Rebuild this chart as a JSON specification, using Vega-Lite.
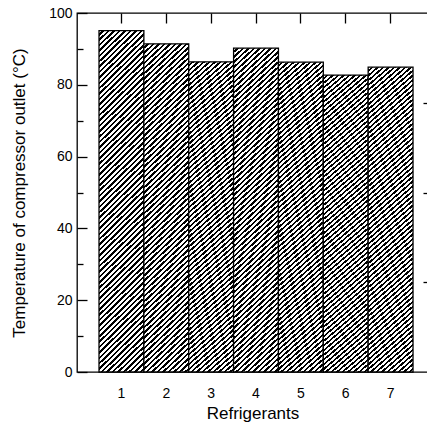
{
  "$schema": "https://vega.github.io/schema/vega-lite/v6.json",
  "autosize": "none",
  "padding": {"left": 77, "top": 13, "right": 0, "bottom": 54},
  "width": 351,
  "height": 359,
  "data": {"values": [
    {"refrigerant": "1", "temp": 95.1},
    {"refrigerant": "2", "temp": 91.4},
    {"refrigerant": "3", "temp": 86.4},
    {"refrigerant": "4", "temp": 90.2},
    {"refrigerant": "5", "temp": 86.3},
    {"refrigerant": "6", "temp": 82.7},
    {"refrigerant": "7", "temp": 84.9}
  ]},
  "layer": [
    {
      "mark": {"type": "bar", "stroke": "black", "strokeWidth": 1.3,
        "fill": {"gradient": "linear", "x1": 0, "y1": 0, "x2": 0.142, "y2": 1.11, "stops": [
{"offset":0,"color":"#fff"},{"offset":0.0075,"color":"#fff"},{"offset":0.0075,"color":"#000"},{"offset":0.014,"color":"#000"},
{"offset":0.014,"color":"#fff"},{"offset":0.0215,"color":"#fff"},{"offset":0.0215,"color":"#000"},{"offset":0.028,"color":"#000"},
{"offset":0.028,"color":"#fff"},{"offset":0.0355,"color":"#fff"},{"offset":0.0355,"color":"#000"},{"offset":0.042,"color":"#000"},
{"offset":0.042,"color":"#fff"},{"offset":0.0495,"color":"#fff"},{"offset":0.0495,"color":"#000"},{"offset":0.056,"color":"#000"},
{"offset":0.056,"color":"#fff"},{"offset":0.0635,"color":"#fff"},{"offset":0.0635,"color":"#000"},{"offset":0.070,"color":"#000"},
{"offset":0.070,"color":"#fff"},{"offset":0.0775,"color":"#fff"},{"offset":0.0775,"color":"#000"},{"offset":0.084,"color":"#000"},
{"offset":0.084,"color":"#fff"},{"offset":0.0915,"color":"#fff"},{"offset":0.0915,"color":"#000"},{"offset":0.098,"color":"#000"},
{"offset":0.098,"color":"#fff"},{"offset":0.1055,"color":"#fff"},{"offset":0.1055,"color":"#000"},{"offset":0.112,"color":"#000"},
{"offset":0.112,"color":"#fff"},{"offset":0.1195,"color":"#fff"},{"offset":0.1195,"color":"#000"},{"offset":0.126,"color":"#000"},
{"offset":0.126,"color":"#fff"},{"offset":0.1335,"color":"#fff"},{"offset":0.1335,"color":"#000"},{"offset":0.140,"color":"#000"},
{"offset":0.140,"color":"#fff"},{"offset":0.1475,"color":"#fff"},{"offset":0.1475,"color":"#000"},{"offset":0.154,"color":"#000"},
{"offset":0.154,"color":"#fff"},{"offset":0.1615,"color":"#fff"},{"offset":0.1615,"color":"#000"},{"offset":0.168,"color":"#000"},
{"offset":0.168,"color":"#fff"},{"offset":0.1755,"color":"#fff"},{"offset":0.1755,"color":"#000"},{"offset":0.182,"color":"#000"},
{"offset":0.182,"color":"#fff"},{"offset":0.1895,"color":"#fff"},{"offset":0.1895,"color":"#000"},{"offset":0.196,"color":"#000"},
{"offset":0.196,"color":"#fff"},{"offset":0.2035,"color":"#fff"},{"offset":0.2035,"color":"#000"},{"offset":0.210,"color":"#000"},
{"offset":0.210,"color":"#fff"},{"offset":0.2175,"color":"#fff"},{"offset":0.2175,"color":"#000"},{"offset":0.224,"color":"#000"},
{"offset":0.224,"color":"#fff"},{"offset":0.2315,"color":"#fff"},{"offset":0.2315,"color":"#000"},{"offset":0.238,"color":"#000"},
{"offset":0.238,"color":"#fff"},{"offset":0.2455,"color":"#fff"},{"offset":0.2455,"color":"#000"},{"offset":0.252,"color":"#000"},
{"offset":0.252,"color":"#fff"},{"offset":0.2595,"color":"#fff"},{"offset":0.2595,"color":"#000"},{"offset":0.266,"color":"#000"},
{"offset":0.266,"color":"#fff"},{"offset":0.2735,"color":"#fff"},{"offset":0.2735,"color":"#000"},{"offset":0.280,"color":"#000"},
{"offset":0.280,"color":"#fff"},{"offset":0.2875,"color":"#fff"},{"offset":0.2875,"color":"#000"},{"offset":0.294,"color":"#000"},
{"offset":0.294,"color":"#fff"},{"offset":0.3015,"color":"#fff"},{"offset":0.3015,"color":"#000"},{"offset":0.308,"color":"#000"},
{"offset":0.308,"color":"#fff"},{"offset":0.3155,"color":"#fff"},{"offset":0.3155,"color":"#000"},{"offset":0.322,"color":"#000"},
{"offset":0.322,"color":"#fff"},{"offset":0.3295,"color":"#fff"},{"offset":0.3295,"color":"#000"},{"offset":0.336,"color":"#000"},
{"offset":0.336,"color":"#fff"},{"offset":0.3435,"color":"#fff"},{"offset":0.3435,"color":"#000"},{"offset":0.350,"color":"#000"},
{"offset":0.350,"color":"#fff"},{"offset":0.3575,"color":"#fff"},{"offset":0.3575,"color":"#000"},{"offset":0.364,"color":"#000"},
{"offset":0.364,"color":"#fff"},{"offset":0.3715,"color":"#fff"},{"offset":0.3715,"color":"#000"},{"offset":0.378,"color":"#000"},
{"offset":0.378,"color":"#fff"},{"offset":0.3855,"color":"#fff"},{"offset":0.3855,"color":"#000"},{"offset":0.392,"color":"#000"},
{"offset":0.392,"color":"#fff"},{"offset":0.3995,"color":"#fff"},{"offset":0.3995,"color":"#000"},{"offset":0.406,"color":"#000"},
{"offset":0.406,"color":"#fff"},{"offset":0.4135,"color":"#fff"},{"offset":0.4135,"color":"#000"},{"offset":0.420,"color":"#000"},
{"offset":0.420,"color":"#fff"},{"offset":0.4275,"color":"#fff"},{"offset":0.4275,"color":"#000"},{"offset":0.434,"color":"#000"},
{"offset":0.434,"color":"#fff"},{"offset":0.4415,"color":"#fff"},{"offset":0.4415,"color":"#000"},{"offset":0.448,"color":"#000"},
{"offset":0.448,"color":"#fff"},{"offset":0.4555,"color":"#fff"},{"offset":0.4555,"color":"#000"},{"offset":0.462,"color":"#000"},
{"offset":0.462,"color":"#fff"},{"offset":0.4695,"color":"#fff"},{"offset":0.4695,"color":"#000"},{"offset":0.476,"color":"#000"},
{"offset":0.476,"color":"#fff"},{"offset":0.4835,"color":"#fff"},{"offset":0.4835,"color":"#000"},{"offset":0.490,"color":"#000"},
{"offset":0.490,"color":"#fff"},{"offset":0.4975,"color":"#fff"},{"offset":0.4975,"color":"#000"},{"offset":0.504,"color":"#000"},
{"offset":0.504,"color":"#fff"},{"offset":0.5115,"color":"#fff"},{"offset":0.5115,"color":"#000"},{"offset":0.518,"color":"#000"},
{"offset":0.518,"color":"#fff"},{"offset":0.5255,"color":"#fff"},{"offset":0.5255,"color":"#000"},{"offset":0.532,"color":"#000"},
{"offset":0.532,"color":"#fff"},{"offset":0.5395,"color":"#fff"},{"offset":0.5395,"color":"#000"},{"offset":0.546,"color":"#000"},
{"offset":0.546,"color":"#fff"},{"offset":0.5535,"color":"#fff"},{"offset":0.5535,"color":"#000"},{"offset":0.560,"color":"#000"},
{"offset":0.560,"color":"#fff"},{"offset":0.5675,"color":"#fff"},{"offset":0.5675,"color":"#000"},{"offset":0.574,"color":"#000"},
{"offset":0.574,"color":"#fff"},{"offset":0.5815,"color":"#fff"},{"offset":0.5815,"color":"#000"},{"offset":0.588,"color":"#000"},
{"offset":0.588,"color":"#fff"},{"offset":0.5955,"color":"#fff"},{"offset":0.5955,"color":"#000"},{"offset":0.602,"color":"#000"},
{"offset":0.602,"color":"#fff"},{"offset":0.6095,"color":"#fff"},{"offset":0.6095,"color":"#000"},{"offset":0.616,"color":"#000"},
{"offset":0.616,"color":"#fff"},{"offset":0.6235,"color":"#fff"},{"offset":0.6235,"color":"#000"},{"offset":0.630,"color":"#000"},
{"offset":0.630,"color":"#fff"},{"offset":0.6375,"color":"#fff"},{"offset":0.6375,"color":"#000"},{"offset":0.644,"color":"#000"},
{"offset":0.644,"color":"#fff"},{"offset":0.6515,"color":"#fff"},{"offset":0.6515,"color":"#000"},{"offset":0.658,"color":"#000"},
{"offset":0.658,"color":"#fff"},{"offset":0.6655,"color":"#fff"},{"offset":0.6655,"color":"#000"},{"offset":0.672,"color":"#000"},
{"offset":0.672,"color":"#fff"},{"offset":0.6795,"color":"#fff"},{"offset":0.6795,"color":"#000"},{"offset":0.686,"color":"#000"},
{"offset":0.686,"color":"#fff"},{"offset":0.6935,"color":"#fff"},{"offset":0.6935,"color":"#000"},{"offset":0.700,"color":"#000"},
{"offset":0.700,"color":"#fff"},{"offset":0.7075,"color":"#fff"},{"offset":0.7075,"color":"#000"},{"offset":0.714,"color":"#000"},
{"offset":0.714,"color":"#fff"},{"offset":0.7215,"color":"#fff"},{"offset":0.7215,"color":"#000"},{"offset":0.728,"color":"#000"},
{"offset":0.728,"color":"#fff"},{"offset":0.7355,"color":"#fff"},{"offset":0.7355,"color":"#000"},{"offset":0.742,"color":"#000"},
{"offset":0.742,"color":"#fff"},{"offset":0.7495,"color":"#fff"},{"offset":0.7495,"color":"#000"},{"offset":0.756,"color":"#000"},
{"offset":0.756,"color":"#fff"},{"offset":0.7635,"color":"#fff"},{"offset":0.7635,"color":"#000"},{"offset":0.770,"color":"#000"},
{"offset":0.770,"color":"#fff"},{"offset":0.7775,"color":"#fff"},{"offset":0.7775,"color":"#000"},{"offset":0.784,"color":"#000"},
{"offset":0.784,"color":"#fff"},{"offset":0.7915,"color":"#fff"},{"offset":0.7915,"color":"#000"},{"offset":0.798,"color":"#000"},
{"offset":0.798,"color":"#fff"},{"offset":0.8055,"color":"#fff"},{"offset":0.8055,"color":"#000"},{"offset":0.812,"color":"#000"},
{"offset":0.812,"color":"#fff"},{"offset":0.8195,"color":"#fff"},{"offset":0.8195,"color":"#000"},{"offset":0.826,"color":"#000"},
{"offset":0.826,"color":"#fff"},{"offset":0.8335,"color":"#fff"},{"offset":0.8335,"color":"#000"},{"offset":0.840,"color":"#000"},
{"offset":0.840,"color":"#fff"},{"offset":0.8475,"color":"#fff"},{"offset":0.8475,"color":"#000"},{"offset":0.854,"color":"#000"},
{"offset":0.854,"color":"#fff"},{"offset":0.8615,"color":"#fff"},{"offset":0.8615,"color":"#000"},{"offset":0.868,"color":"#000"},
{"offset":0.868,"color":"#fff"},{"offset":0.8755,"color":"#fff"},{"offset":0.8755,"color":"#000"},{"offset":0.882,"color":"#000"},
{"offset":0.882,"color":"#fff"},{"offset":0.8895,"color":"#fff"},{"offset":0.8895,"color":"#000"},{"offset":0.896,"color":"#000"},
{"offset":0.896,"color":"#fff"},{"offset":0.9035,"color":"#fff"},{"offset":0.9035,"color":"#000"},{"offset":0.910,"color":"#000"},
{"offset":0.910,"color":"#fff"},{"offset":0.9175,"color":"#fff"},{"offset":0.9175,"color":"#000"},{"offset":0.924,"color":"#000"},
{"offset":0.924,"color":"#fff"},{"offset":0.9315,"color":"#fff"},{"offset":0.9315,"color":"#000"},{"offset":0.938,"color":"#000"},
{"offset":0.938,"color":"#fff"},{"offset":0.9455,"color":"#fff"},{"offset":0.9455,"color":"#000"},{"offset":0.952,"color":"#000"},
{"offset":0.952,"color":"#fff"},{"offset":0.9595,"color":"#fff"},{"offset":0.9595,"color":"#000"},{"offset":0.966,"color":"#000"},
{"offset":0.966,"color":"#fff"},{"offset":0.9735,"color":"#fff"},{"offset":0.9735,"color":"#000"},{"offset":0.980,"color":"#000"},
{"offset":0.980,"color":"#fff"},{"offset":0.9875,"color":"#fff"},{"offset":0.9875,"color":"#000"},{"offset":0.994,"color":"#000"},
{"offset":0.994,"color":"#fff"},{"offset":1,"color":"#fff"}
        ]}
      },
      "encoding": {
        "x": {"field": "refrigerant", "type": "ordinal",
          "scale": {"type": "band", "paddingInner": 0, "paddingOuter": 0.4124, "align": 0.595},
          "axis": {"orient": "bottom", "title": "Refrigerants", "labelAngle": 0, "ticks": false, "domain": false, "labelPadding": 14, "titlePadding": 5}},
        "y": {"field": "temp", "type": "quantitative",
          "scale": {"domain": [0, 100], "nice": false, "zero": true},
          "axis": {"orient": "left", "title": "Temperature of compressor outlet (°C)",
            "values": [0, 10, 20, 30, 40, 50, 60, 70, 80, 90, 100], "format": "d",
            "labelExpr": "datum.value % 20 === 0 ? datum.label : ''",
            "tickSize": {"condition": {"test": "datum.value % 20 === 0", "value": -10}, "value": -6},
            "domain": false, "labelPadding": 15, "titlePadding": 20}}
      }
    },
    {
      "mark": {"type": "bar", "opacity": 0},
      "encoding": {
        "x": {"field": "refrigerant", "type": "ordinal",
          "axis": {"orient": "top", "title": null, "labels": false, "domain": false, "tickSize": -10}},
        "y": {"field": "temp", "type": "quantitative",
          "axis": {"orient": "right", "title": null, "labels": false, "domain": false, "values": [25, 50, 75], "tickSize": -5}}
      }
    }
  ],
  "resolve": {"axis": {"x": "independent", "y": "independent"}},
  "config": {
    "view": {"stroke": "black", "strokeWidth": 1.3},
    "axis": {
      "grid": false,
      "labelFont": "Liberation Sans", "titleFont": "Liberation Sans",
      "labelFontSize": 14, "titleFontSize": 17, "titleFontWeight": "normal",
      "labelColor": "black", "titleColor": "black",
      "tickColor": "black", "tickWidth": 1.3, "domainColor": "black"
    }
  }
}
